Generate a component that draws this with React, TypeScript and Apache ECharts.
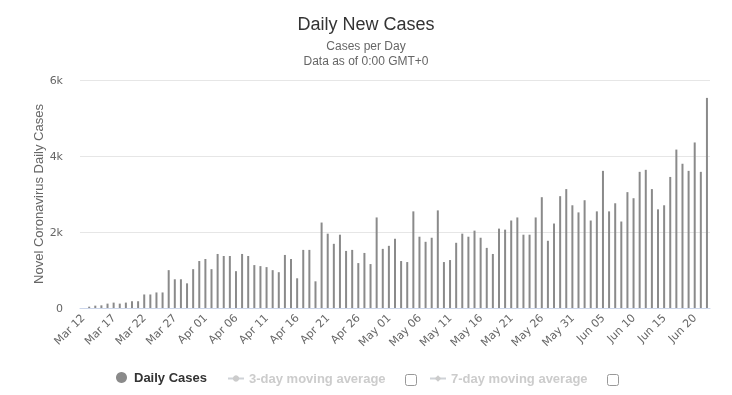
import React, { useEffect, useRef } from "react";
import * as echarts from "echarts";

const startDate = { year: 2020, month: 2, day: 12 }; // Mar 12, 2020 (month 0-based)
const monthNames = ["Jan", "Feb", "Mar", "Apr", "May", "Jun", "Jul", "Aug", "Sep", "Oct", "Nov", "Dec"];

const dailyCases = [
  0, 35, 62, 70, 115, 142, 115, 142, 178, 178,
  356, 356, 409, 409, 996, 756, 756, 649, 1022, 1236,
  1289, 1022, 1422, 1369, 1369, 969, 1422, 1369, 1129, 1102,
  1076, 996, 942, 1396, 1289, 782, 1529, 1529, 702, 2249,
  1956, 1689, 1929, 1502, 1529, 1182, 1449, 1156, 2383, 1556,
  1636, 1822, 1236, 1209, 2543, 1876, 1742, 1849, 2569, 1209,
  1262, 1716, 1956, 1876, 2036, 1849, 1582, 1422, 2089, 2062,
  2302, 2383, 1929, 1929, 2383, 2916, 1769, 2223, 2943, 3129,
  2703, 2516, 2836, 2302, 2543, 3609, 2543, 2756, 2276, 3049,
  2889, 3583, 3636, 3129, 2596, 2703, 3449, 4169, 3796, 3609,
  4356, 3583, 5529,
];

const seriesNames = ["Daily Cases", "3-day moving average", "7-day moving average"];
const yTicks = [0, 2000, 4000, 6000];

function makeDates(n: number): string[] {
  const out: string[] = [];
  for (let i = 0; i < n; i++) {
    const d = new Date(Date.UTC(startDate.year, startDate.month, startDate.day + i));
    const dd = String(d.getUTCDate()).padStart(2, "0");
    out.push(`${monthNames[d.getUTCMonth()]} ${dd}`);
  }
  return out;
}

const categories = makeDates(dailyCases.length);

const FONT = '"Liberation Sans", Arial, Helvetica, sans-serif';
const FONT_AXIS = '"DejaVu Sans", Verdana, sans-serif';

export default function App() {
  const ref = useRef<HTMLDivElement>(null);
  useEffect(() => {
    if (!ref.current) return;
    const chart = echarts.init(ref.current, undefined, { renderer: "svg" });
    const legendBase = {
      orient: "horizontal",
      top: 367,
      itemWidth: 16,
      itemHeight: 8,
      inactiveColor: "#cccccc",
      selected: { [seriesNames[1]]: false, [seriesNames[2]]: false },
      textStyle: { fontFamily: FONT, fontSize: 13, fontWeight: "bold", color: "#333333" },
    };
    chart.setOption({
      animation: false,
      textStyle: { fontFamily: FONT },
      title: {
        text: "Daily New Cases",
        subtext: "Cases per Day\nData as of 0:00 GMT+0",
        left: "center",
        top: 10,
        itemGap: 5,
        textStyle: { fontFamily: FONT, fontSize: 18, fontWeight: "normal", color: "#333333" },
        subtextStyle: { fontFamily: FONT, fontSize: 12, color: "#666666", lineHeight: 15, align: "center" },
      },
      grid: { left: 80, right: 22, top: 80, bottom: 87, containLabel: false },
      legend: [
        { ...legendBase, data: [{ name: seriesNames[0], icon: "circle" }], left: 111, itemWidth: 15, itemHeight: 11, top: 366 },
        { ...legendBase, data: [seriesNames[1]], left: 222 },
        { ...legendBase, data: [seriesNames[2]], left: 424 },
      ],
      xAxis: {
        type: "category",
        data: categories,
        boundaryGap: true,
        axisLine: { lineStyle: { color: "#ccd6eb" } },
        axisTick: { show: false },
        axisLabel: {
          interval: 4,
          rotate: 45,
          fontSize: 11,
          color: "#666666",
          margin: 8,
          fontFamily: FONT_AXIS,
        },
      },
      yAxis: {
        type: "value",
        min: yTicks[0],
        max: yTicks[yTicks.length - 1],
        interval: 2000,
        name: "Novel Coronavirus Daily Cases",
        nameLocation: "middle",
        nameGap: 35,
        nameMoveOverlap: false,
        nameTextStyle: { fontFamily: FONT, fontSize: 13, color: "#666666" },
        axisLabel: {
          fontSize: 11,
          color: "#666666",
          margin: 17,
          padding: [6, 0, 0, 0],
          fontFamily: FONT_AXIS,
          formatter: (v: number) => (v === 0 ? "0" : `${v / 1000}k`),
        },
        splitLine: { lineStyle: { color: "#e6e6e6" } },
        axisLine: { show: false },
        axisTick: { show: false },
      },
      series: [
        {
          name: seriesNames[0],
          type: "bar",
          data: dailyCases,
          barWidth: 2,
          itemStyle: { color: "#8a8a8a" },
        },
        { name: seriesNames[1], type: "line", data: [], symbol: "circle", symbolSize: 6, itemStyle: { color: "#8a8a8a" } },
        { name: seriesNames[2], type: "line", data: [], symbol: "diamond", symbolSize: 7, itemStyle: { color: "#8a8a8a" } },
      ],
      graphic: [
        { type: "rect", left: 405, top: 374, shape: { width: 11, height: 11, r: 2 }, style: { fill: "#ffffff", stroke: "#999999", lineWidth: 1 } },
        { type: "rect", left: 607, top: 374, shape: { width: 11, height: 11, r: 2 }, style: { fill: "#ffffff", stroke: "#999999", lineWidth: 1 } },
      ],
    });
    return () => chart.dispose();
  }, []);
  return <div ref={ref} style={{ position: "fixed", left: 0, top: 0, width: 732, height: 395 }} />;
}
